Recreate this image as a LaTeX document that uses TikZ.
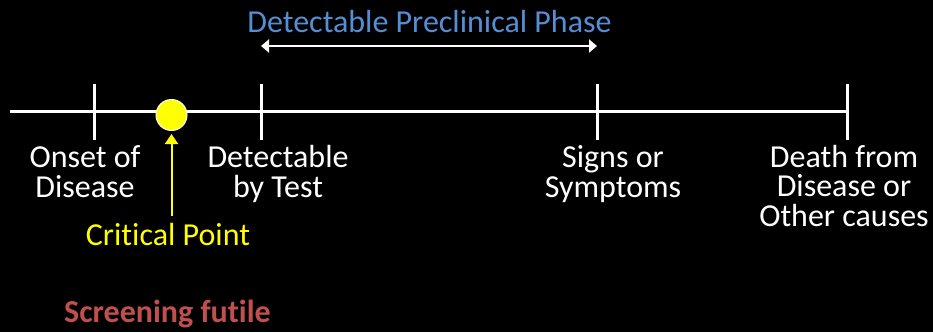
\documentclass[tikz,border=0pt]{standalone}
\usepackage{fontspec}
\setmainfont[Ligatures={NoCommon}]{Carlito}
\usetikzlibrary{arrows.meta}
\definecolor{titleblue}{RGB}{85,142,213}
\definecolor{futilered}{RGB}{192,80,77}
\definecolor{crityellow}{RGB}{255,255,0}
\begin{document}
\begin{tikzpicture}[x=1pt,y=-1pt,
  lbl/.style={text=white,align=center,inner sep=0pt,anchor=base,font=\fontsize{32}{29.5}\selectfont},
  tick/.style={draw=white,line width=3pt},
  axis/.style={draw=white,line width=3pt}]
\useasboundingbox[fill=black] (0,0) rectangle (933,332);
% axis
\coordinate (L) at (10,111);
\coordinate (R) at (847,111);
\draw[axis] (L) -- (R);
\foreach \n/\x in {t1/94,t2/261,t3/597,t4/847}{
  \coordinate (\n top) at (\x,84);
  \coordinate (\n bot) at (\x,140);
  \draw[tick] (\n top) -- (\n bot);
}
% labels (base anchor = baseline of last line)
\node[lbl] (onset) at (85,197) {Onset of\\Disease};
\node[lbl] (detect) at (278,197) {Detectable\\by Test};
\node[lbl] (signs) at (613,197) {Signs or\\Symptoms};
\node[lbl] (death) at (844,226) {Death from\\Disease or\\Other causes};
% title and double arrow
\node[text=titleblue,inner sep=0pt,anchor=base,font=\fontsize{32}{32}\selectfont] (title) at (429.5,32.5) {Detectable Preclinical Phase};
\coordinate (pa) at (261,46);
\coordinate (pb) at (597,46);
\draw[white,line width=2pt,{Triangle[width=13pt,length=8pt]}-{Triangle[width=13pt,length=8pt]}] (pa) -- (pb);
% critical point
\node[circle,fill=crityellow,draw=white,line width=1pt,minimum size=31pt,inner sep=0pt] (cp) at (171.5,115) {};
\node[text=crityellow,inner sep=0pt,anchor=base,font=\fontsize{32}{32}\selectfont] (crit) at (168,245) {Critical Point};
\coordinate (cpfoot) at (171.5,216);
\draw[crityellow,line width=2pt,-{Triangle[width=13pt,length=10pt]}] (cpfoot) -- ([yshift=-3pt]cp.south);
% screening futile
\node[text=futilered,inner sep=0pt,anchor=base,font=\fontsize{32}{32}\selectfont\bfseries] (futile) at (167.5,322) {Screening futile};
\end{tikzpicture}
\end{document}
